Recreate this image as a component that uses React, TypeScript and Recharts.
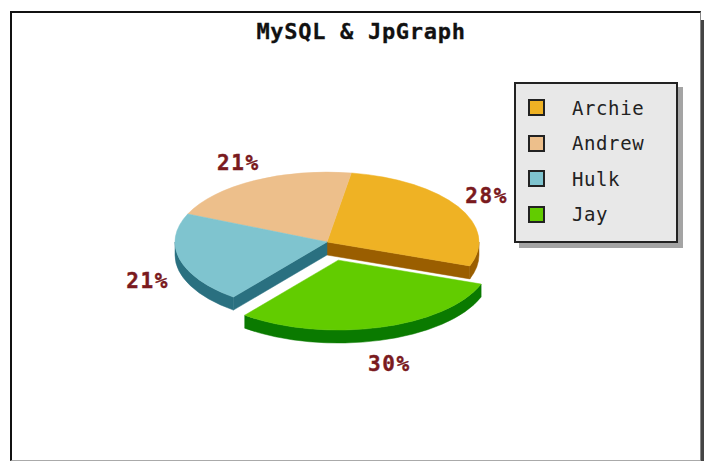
import { PieChart, Pie, Legend } from "recharts";

const names = ["Archie", "Andrew", "Hulk", "Jay"];
const values = [28, 21, 21, 30];
const topColors = ["#EFB224", "#EDBF8B", "#7FC4CF", "#62CC00"];
const wallColors = ["#9A5E00", "#9A7A50", "#2A7080", "#0A7A00"];
const explodedName = "Jay";

const rows = names.map((name, i) => ({ name, value: values[i], fill: topColors[i] }));

const MONO = "'DejaVu Sans Mono', monospace";
const SQUASH = 0.46; // tilt of the 3D pie
const DEPTH = 13;
const EXPLODE = 41;
const RAD = Math.PI / 180;

const explodeOffset = (name: string, midAngle: number) =>
  name === explodedName
    ? { x: EXPLODE * Math.cos(midAngle * RAD), y: -EXPLODE * SQUASH * Math.sin(midAngle * RAD) }
    : { x: 0, y: 0 };

const onEllipse = (cx: number, cy: number, r: number, deg: number) => ({
  x: cx + r * Math.cos(deg * RAD),
  y: cy - r * SQUASH * Math.sin(deg * RAD),
});

// arc in screen space, going from angle a to angle b (a < b means anticlockwise on screen)
const arcTo = (cx: number, cy: number, r: number, a: number, b: number) => {
  const p = onEllipse(cx, cy, r, b);
  return `A ${r} ${r * SQUASH} 0 ${Math.abs(b - a) > 180 ? 1 : 0} ${b > a ? 0 : 1} ${p.x} ${p.y}`;
};

const rimPath = (cx: number, cy: number, r: number, a: number, b: number) => {
  const p = onEllipse(cx, cy, r, a);
  const q = onEllipse(cx, cy + DEPTH, r, b);
  return `M ${p.x} ${p.y} ${arcTo(cx, cy, r, a, b)} L ${q.x} ${q.y} ${arcTo(cx, cy + DEPTH, r, b, a)} Z`;
};

function PieSlice(props: any) {
  const { startAngle, endAngle, outerRadius: r } = props;
  const name = props.payload?.name ?? props.name;
  const i = names.indexOf(name);
  const off = explodeOffset(name, (startAngle + endAngle) / 2);
  const cx = props.cx + off.x;
  const cy = props.cy + off.y;

  const p0 = onEllipse(cx, cy, r, startAngle);
  const p1 = onEllipse(cx, cy, r, endAngle);
  const top = `M ${cx} ${cy} L ${p0.x} ${p0.y} ${arcTo(cx, cy, r, startAngle, endAngle)} Z`;

  // outer wall is only seen on the front half of the ellipse
  const walls: string[] = [];
  [
    [-180, 0],
    [180, 360],
  ].forEach(([lo, hi]) => {
    const a = Math.max(lo, startAngle);
    const b = Math.min(hi, endAngle);
    if (b > a) walls.push(rimPath(cx, cy, r, a, b));
  });

  // the gap left by the exploded slice shows the cut faces of its neighbours
  const n = names.length;
  const face = (p: { x: number; y: number }) =>
    `M ${cx} ${cy} L ${p.x} ${p.y} L ${p.x} ${p.y + DEPTH} L ${cx} ${cy + DEPTH} Z`;
  if (name !== explodedName) {
    if (names[(i + n - 1) % n] === explodedName) walls.push(face(p0));
    if (names[(i + 1) % n] === explodedName) walls.push(face(p1));
  }

  return (
    <g>
      {walls.map((d, k) => (
        <path key={k} d={d} fill={wallColors[i]} stroke={wallColors[i]} strokeWidth={0.5} />
      ))}
      <path d={top} fill={topColors[i]} stroke={topColors[i]} strokeWidth={0.5} />
    </g>
  );
}

function PieLabel(props: any) {
  const { cx, cy, midAngle, percent, name } = props;
  const off = explodeOffset(name, midAngle);
  const below = Math.sin(midAngle * RAD) < 0;
  const x = cx + off.x + 185 * Math.cos(midAngle * RAD);
  const y = cy + off.y - 90 * Math.sin(midAngle * RAD) + (below ? 17 : 0);
  return (
    <text
      x={x}
      y={y}
      textAnchor="middle"
      dominantBaseline="central"
      fontFamily={MONO}
      fontWeight="bold"
      fontSize={21}
      letterSpacing={1.6}
      fill="#7A1A1E"
      stroke="#7A1A1E"
      strokeWidth={0.4}
    >
      {`${Math.round(percent * 100)}%`}
    </text>
  );
}

function LegendBox({ payload }: any) {
  return (
    <div
      style={{
        boxSizing: "border-box",
        width: 164,
        height: 161,
        padding: "6px 0 0 12px",
        background: "#E8E8E8",
        border: "2px solid #222",
        boxShadow: "5px 5px 0 #A4A4A4",
        fontFamily: MONO,
        fontSize: 19,
        letterSpacing: 0.6,
        color: "#222",
      }}
    >
      {payload.map((entry: any) => (
        <div key={entry.value} style={{ display: "flex", alignItems: "center", height: 35.5 }}>
          <span
            style={{
              boxSizing: "border-box",
              width: 17,
              height: 17,
              marginRight: 27,
              background: entry.color,
              border: "2px solid #222",
            }}
          />
          {entry.value}
        </div>
      ))}
    </div>
  );
}

export default function App() {
  return (
    <div style={{ position: "absolute", left: 0, top: 0, width: 704, height: 461, background: "#fff" }}>
      <div
        style={{
          position: "absolute",
          left: 10,
          top: 11,
          width: 691,
          height: 450,
          boxSizing: "border-box",
          borderTop: "2px solid #111",
          borderLeft: "2px solid #111",
          borderRight: "1px solid #888",
          borderBottom: "1px solid #AAA",
        }}
      />
      <div style={{ position: "absolute", left: 701, top: 20, width: 3, height: 441, background: "#444" }} />
      <PieChart width={704} height={461} margin={{ top: 0, right: 0, bottom: 0, left: 0 }}>
        <text
          x={361}
          y={31}
          textAnchor="middle"
          dominantBaseline="central"
          fontFamily={MONO}
          fontWeight="bold"
          fontSize={22}
          letterSpacing={0.7}
          fill="#111"
          stroke="#111"
          strokeWidth={0.3}
        >
          MySQL &amp; JpGraph
        </text>
        <Pie
          data={rows}
          dataKey="value"
          nameKey="name"
          cx={327}
          cy={242}
          outerRadius={152}
          startAngle={-20}
          endAngle={340}
          isAnimationActive={false}
          shape={PieSlice}
          label={PieLabel}
          labelLine={false}
        />
        <Legend
          content={LegendBox}
          itemSorter={null}
          wrapperStyle={{ position: "absolute", left: 514, top: 82, width: 164, height: 161 }}
        />
      </PieChart>
    </div>
  );
}
